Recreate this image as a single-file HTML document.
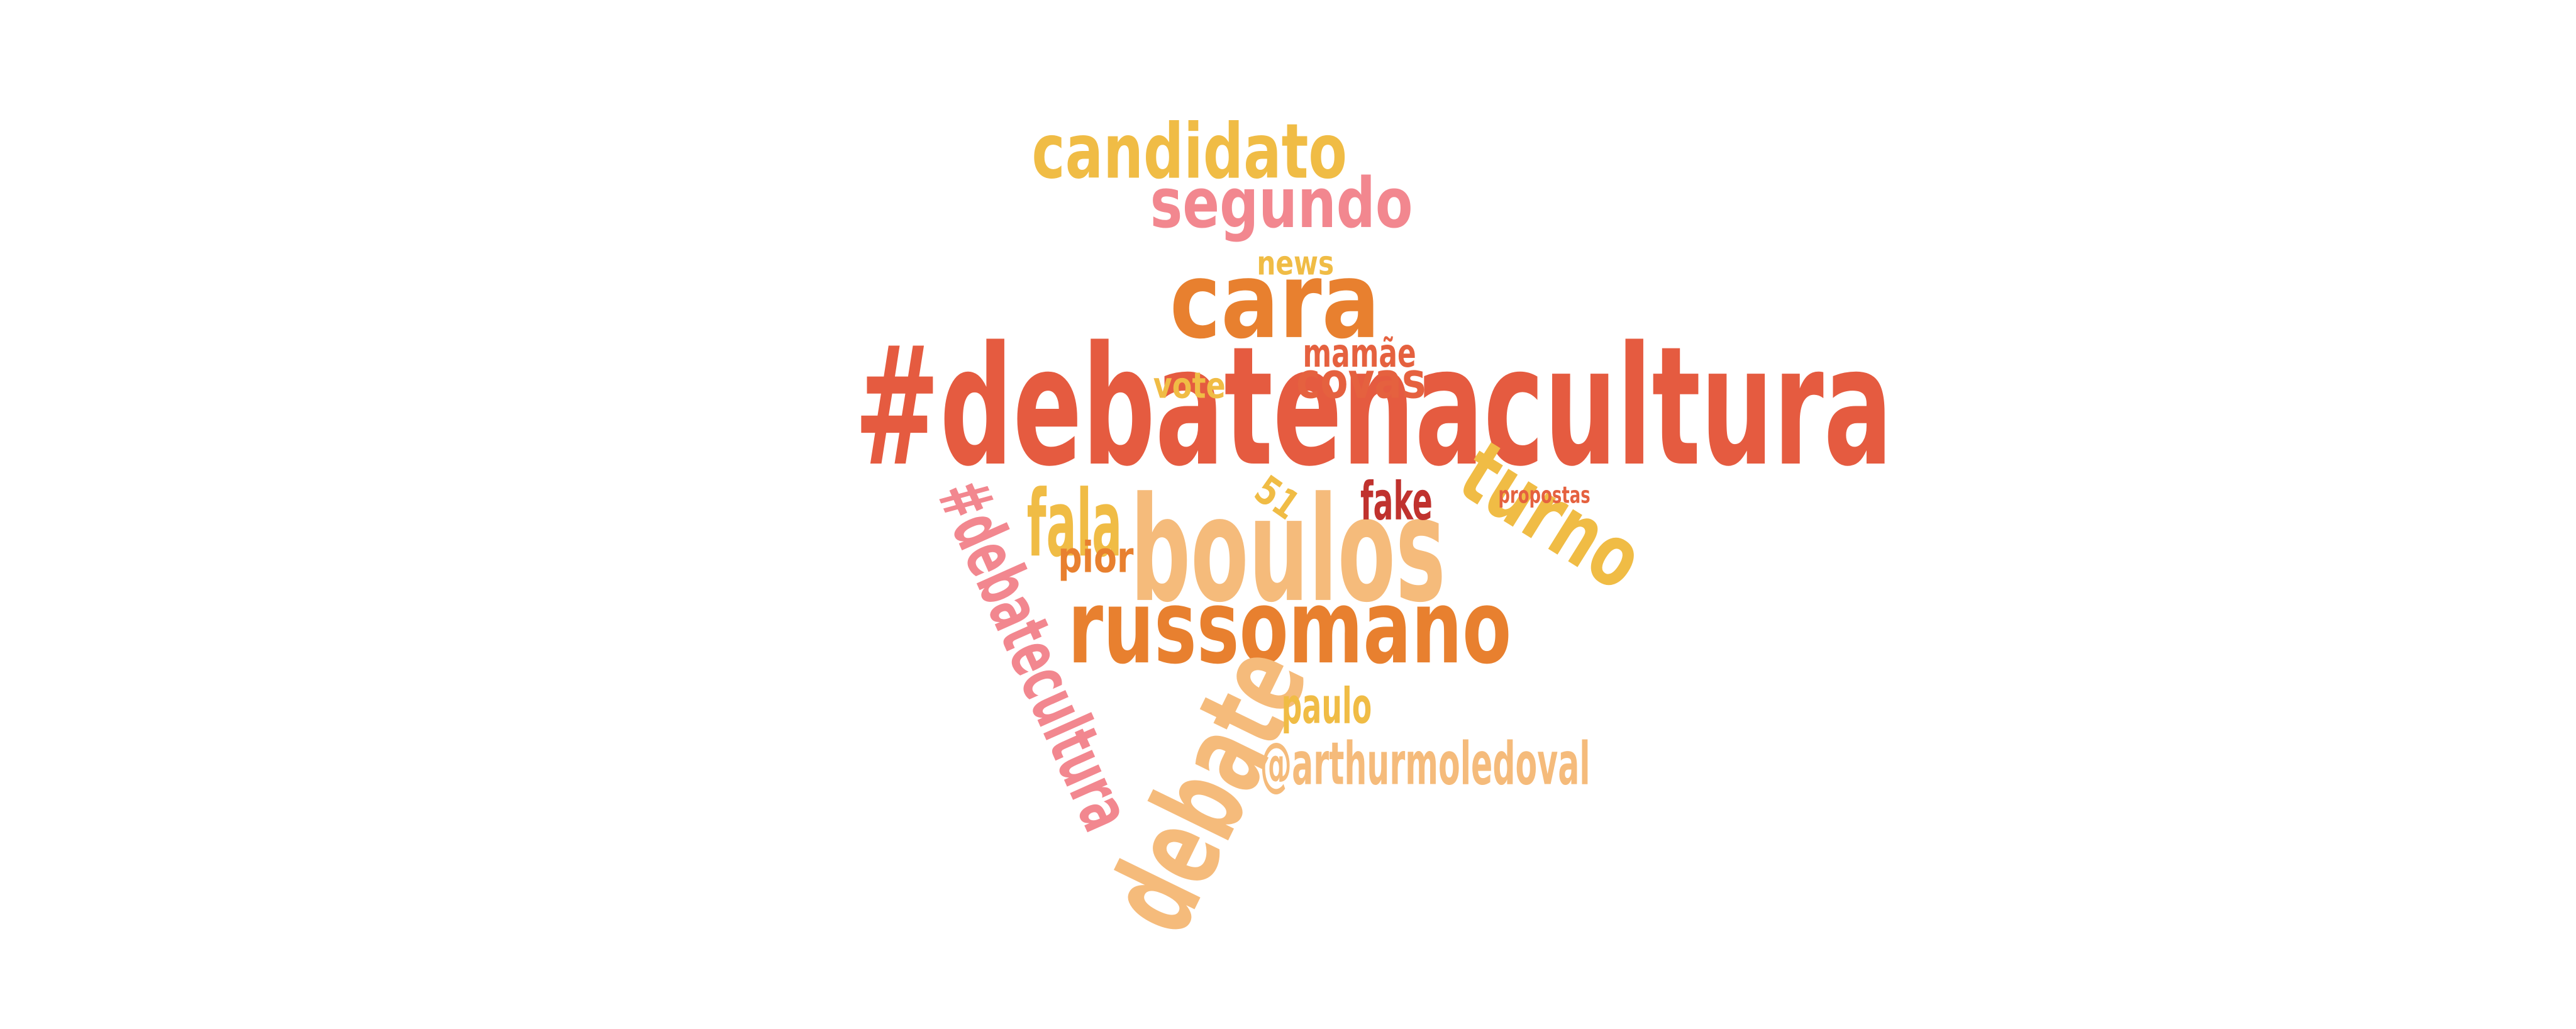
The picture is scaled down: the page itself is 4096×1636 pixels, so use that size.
<!DOCTYPE html>
<html><head><meta charset="utf-8"><style>
html,body{margin:0;padding:0;background:#fff;width:4096px;height:1636px;overflow:hidden}
svg{display:block}
text{font-family:"DejaVu Sans","Liberation Sans",sans-serif;font-weight:bold}
</style></head><body>
<svg id="cloud" width="4096" height="1636" viewBox="0 0 1568 626" xmlns="http://www.w3.org/2000/svg"></svg>
<script>
const words=["#debatenacultura","candidato","segundo","news","cara","mamãe","covas","vote","fala","boulos","51","fake","turno","propostas","pior","russomano","#debatecultura","debate","paulo","@arthurmoledoval"];
const sizes=[100,46,42,20,64,24,30,22,56,88,24,32,52,14,26,62,42,72,30,36];
const xs=[520,628,700,765,712,793,789,702,625,688,762,828,885,912,644,650,570,718,780,767];
const ys=[282,108,138,167,205,223,242,242,338,365,302,316,298,306,348,403,300,572,440,477];
const widths=[632,192,160,47,128,69,79,44,58,192,26,44,118,56,46,270,228,180,55,201];
const angles=[0,0,0,0,0,0,0,0,0,0,35,0,32,0,0,0,66,-64,0,0];
const colors=["#E55B40","#F0BC45","#F2878F","#F0BC45","#E8802F","#E5613F","#E5613F","#F0BC45","#F0BC45","#F5BB7B","#F0BC45","#C0322E","#F0BC45","#E5613F","#E8802F","#E8802F","#F2878F","#F5BB7B","#F0BC45","#F5BB7B"];
const svg=document.getElementById('cloud');
words.forEach((w,i)=>{
  const t=document.createElementNS('http://www.w3.org/2000/svg','text');
  
  
  t.setAttribute('x',xs[i]);t.setAttribute('y',ys[i]);
  t.setAttribute('font-size',sizes[i]);
  t.setAttribute('fill',colors[i]);
  t.setAttribute('textLength',widths[i]);
  t.setAttribute('lengthAdjust','spacingAndGlyphs');
  if(angles[i])t.setAttribute('transform','rotate('+angles[i]+' '+xs[i]+' '+ys[i]+')');
  t.textContent=w;
  svg.appendChild(t);
});
</script>
</body></html>
